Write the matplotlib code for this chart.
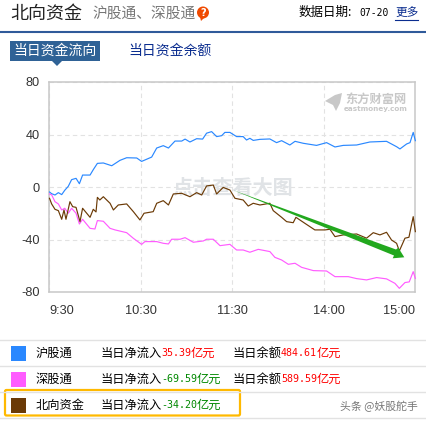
import matplotlib
matplotlib.use("Agg")
import matplotlib.pyplot as plt
from matplotlib.patches import Rectangle, Polygon, FancyBboxPatch, Circle
from matplotlib.transforms import ScaledTranslation

plt.rcParams['font.family'] = ['Noto Sans CJK SC', 'DejaVu Sans']

# minutes since 9:30 (lunch break removed), values in 100M yuan
sh_t = [0, 1.4, 3.6, 5.8, 8, 10, 12.3, 14.5, 17.4, 19.6, 21.7, 26.6, 28.7, 31.4, 35.3, 40.8, 46.2, 50.6, 57.2, 60.4,
        67, 70.3, 74.6, 78, 82.3, 86.7, 88.9, 92.1, 96.5, 100.4, 103, 106.3, 109.6, 112.9, 115, 118.3, 122.7, 127,
        129.2, 131.4, 133.6, 138, 144.5, 148.9, 152.2, 157.6, 161, 166.4, 175.1, 181.7, 187.2, 192.6, 201.4, 210.1,
        221, 227.6, 229.8, 234.2, 236.4, 238.5, 239.9]
sh_v = [-3.8, -5.1, -6.1, -4.3, -5.8, -2.5, 0.5, 5.6, 6.6, 2.5, 9.1, 9.1, 13.2, 18, 18.3, 16.2, 20.3, 22.3, 22.1, 19.5,
        22.8, 29.7, 31.5, 29.7, 35, 35, 36.5, 34.3, 36.8, 36.5, 41, 42.2, 38.4, 39.1, 41.6, 41.6, 38.4, 38.4,
        35.8, 37.1, 35.5, 36.3, 36.6, 33.8, 35.3, 32, 34.8, 33.3, 31.7, 33.8, 30.5, 31.7, 32, 34.3,
        34.8, 30.7, 29, 32.8, 33.8, 41.6, 35.3]

sz_t = [0, 1.4, 3.6, 5.8, 8, 10, 12.3, 14.5, 17.4, 19.6, 21.7, 26.6, 29.8, 31.4, 35.3, 39.7, 43, 50.6, 55, 60.4, 62.6,
        70.3, 74.6, 78, 80.1, 85.6, 88.9, 94.3, 100.9, 103, 107.4, 111.8, 118.3, 122.7, 127, 131.4, 136.9, 144.5,
        147.8, 152.2, 156.6, 161, 165.3, 173, 181.7, 187.2, 195.9, 201.4, 207.9, 214.5, 221, 226.5, 229.4, 233.1,
        235.9, 238.5, 239.9]
sz_v = [-5.3, -6, -11.2, -12.9, -17.5, -16.2, -20, -16.2, -20, -28.2, -24.6, -31.5, -32, -25.6, -26.1, -31.5, -32.7,
        -34.8, -39.1, -43.7, -41.6, -41.6, -42.9, -43.4, -39.8, -39.8, -38.6, -42.1, -41.1, -39.8, -39.8, -44.7,
        -43.7, -48, -48, -49.7, -47.5, -49.2, -53.6, -55.6, -58.9, -58.1, -61.2, -63.7, -64, -68.3, -68.3, -69.8,
        -70.8, -69, -70, -73.4, -77.2, -72.8, -72.3, -64.5, -69.6]

north_t = [0, 1.4, 3.6, 5.8, 8, 9.5, 10.8, 13.4, 15.2, 17.4, 20, 21.7, 26.6, 28.7, 30.5, 31.4, 33, 35.3, 39.7, 41.9,
           45.1, 50.6, 55, 59.3, 62, 68, 70.3, 74.6, 78, 81.2, 86.7, 92.1, 96.5, 99.8, 103, 107.4, 109.6, 113.9, 118.3,
           121.6, 127, 130.3, 133.6, 138, 144.5, 146.7, 152.2, 155.5, 159.8, 161.6, 167.5, 174, 180.6, 183.9, 187.2,
           192.6, 201.4, 207.9, 212.3, 216.7, 221, 224.3, 227.6, 229.4, 233.1, 235.7, 238.5, 239.9]
north_v = [-8.6, -12.9, -17, -18, -24.6, -17.5, -24.6, -11.2, -15, -15.5, -26.4, -16.2, -23.1, -17, -19, -7.9, -9.9,
           -7.4, -12.4, -17.5, -13.7, -12.9, -18.8, -25.1, -20, -18.8, -12.4, -10.4, -13.7, -5.3, -4.8, -7.4, -4.3,
           -6.1, 0.8, 1.5, -5.3, -0.3, -2.3, -8.6, -9.9, -14.5, -12.4, -13.7, -12.4, -18, -23.1, -26.4, -27.2, -23.1,
           -27.7, -32.7, -32.7, -32.2, -37.8, -36.5, -35.8, -39, -34.8, -36.5, -34.5, -40.4, -42.9, -48.7, -39, -38.3,
           -22.6, -34]

y_ticks = [-80, -40, 0, 40, 80]
x_ticks = [0, 60, 120, 180, 240]
x_labels = ['9:30', '10:30', '11:30', '14:00', '15:00']

BLUE = '#2a88ff'
PINK = '#ff5cff'
BROWN = '#6b3a06'

fig = plt.figure(figsize=(4.27, 4.22), dpi=100)

# overlay in pixel coordinates for the page furniture
ov = fig.add_axes([0, 0, 1, 1], zorder=0)
ov.set_xlim(0, 427)
ov.set_ylim(422, 0)
ov.axis('off')

ax = fig.add_axes([49.5 / 427, 130 / 422, 366 / 427, 210 / 422], zorder=1)
ax.patch.set_alpha(0)
ax.set_xlim(0, 240)
ax.set_ylim(-80, 80)
ax.set_yticks(y_ticks)
ax.set_yticklabels(['-80', '-40', '0', '40', '80'], family='Liberation Sans', fontsize=9.2, color='#333333')
ax.set_xticks(x_ticks)
ax.set_xticklabels(x_labels, family='Liberation Sans', fontsize=9.2, color='#333333')
ax.tick_params(length=0, pad=7)
ax.tick_params(axis='x', pad=9)
ax.grid(True, ls=(0, (4, 3)), lw=0.8, color='#e2e2e2')
ax.set_axisbelow(True)
for s in ax.spines.values():
    s.set_color('#c8c8c8')
    s.set_linewidth(1.1)

labs = ax.get_xticklabels()
labs[0].set_ha('left')
labs[4].set_ha('right')
labs[3].set_transform(labs[3].get_transform() + ScaledTranslation(4.5 / 100, 0, fig.dpi_scale_trans))

# watermarks under the lines
ax.text(0.5, 0.5, '点击查看大图', transform=ax.transAxes, ha='center', va='center', fontsize=14.5,
        fontweight='bold', color='#e0e3e6', zorder=1)
ov.text(376, 99, '东方财富网', ha='center', va='center', fontsize=8.8, fontweight='bold', color='#c8c8c8')
ov.text(376, 109, 'eastmoney.com', ha='center', va='center', fontsize=5.2, fontweight='bold', color='#c8c8c8',
        family='DejaVu Sans')
ov.add_patch(Polygon([(325, 101), (335, 95), (342, 93), (340, 103), (336, 111), (333, 105)], fc='#c8c8c8', ec='none'))

ax.plot(sh_t, sh_v, color=BLUE, lw=0.85, zorder=3, clip_on=False)
ax.plot(sz_t, sz_v, color=PINK, lw=0.85, zorder=3, clip_on=False)
ax.plot(north_t, north_v, color=BROWN, lw=0.85, zorder=3, clip_on=False)

# hand drawn green arrow on top of the chart
arrow = fig.add_axes([0, 0, 1, 1], zorder=2)
arrow.set_xlim(0, 427)
arrow.set_ylim(422, 0)
arrow.axis('off')
arrow.add_patch(Polygon([(232.7, 190), (396, 249.5), (398.3, 247.7), (404.3, 257.3), (392.7, 258.3), (394, 255.5)],
                        fc='#22a81e', ec='none'))

# header
ov.text(10, 14, '北向资金', fontsize=13, va='center', color='#222222')
ov.text(92, 14, '沪股通、深股通', fontsize=10.6, va='center', color='#777777')
ov.add_patch(Circle((203, 12.5), 6, fc='#f04a00', ec='none'))
ov.add_patch(Polygon([(200, 17), (205, 17), (201, 21)], fc='#f04a00', ec='none'))
ov.text(203, 12.5, '?', fontsize=7, fontweight='bold', color='white', ha='center', va='center', family='DejaVu Sans')
ov.text(299, 12.5, '数据日期:', fontsize=9, va='center', color='black')
ov.text(359, 12.5, '07-20', fontsize=7, va='center', color='black', family='DejaVu Sans Mono')
ov.text(395, 12.5, '更多', fontsize=8.4, va='center', color='#0b2d8f')
ov.plot([395, 418], [20, 20], color='#0b2d8f', lw=0.8)
ov.plot([0, 425], [32, 32], color='#2f5a9a', lw=1.5)

# tabs
ov.add_patch(Rectangle((10, 41), 90, 20, fc='#2f6296', ec='none'))
ov.add_patch(Polygon([(52, 61), (62, 61), (57, 66)], fc='#2f6296', ec='none'))
ov.text(55, 51, '当日资金流向', fontsize=10, color='white', ha='center', va='center')
ov.text(128, 51, '当日资金余额', fontsize=10, color='#0b2d8f', va='center')

# legend table
for yy in [340, 366, 392, 418]:
    ov.plot([0, 425], [yy, yy], color='#e2e2e2', lw=1)

names = ['沪股通', '深股通', '北向资金']
colors = [BLUE, PINK, BROWN]
flow = ['35.39', '-69.59', '-34.20']
flow_colors = ['#ff0000', '#008800', '#008800']
balance = ['484.61', '589.59', None]
rows = [353.5, 379.5, 405.5]

for name, col, fl, fc, bal, yy in zip(names, colors, flow, flow_colors, balance, rows):
    ov.add_patch(Rectangle((11, yy - 7.5), 15, 15, fc=col, ec='none'))
    ov.text(36, yy, name, fontsize=8.8, va='center', color='black')
    ov.text(101, yy, '当日净流入', fontsize=8.8, va='center', color='black')
    ov.text(161, yy, fl, fontsize=7.2, va='center', color=fc, family='DejaVu Sans Mono')
    ov.text(161 + 6 * len(fl), yy, '亿元', fontsize=8.8, va='center', color=fc)
    if bal is not None:
        ov.text(233, yy, '当日余额', fontsize=8.8, va='center', color='black')
        ov.text(281, yy, bal, fontsize=7.2, va='center', color='#ff0000', family='DejaVu Sans Mono')
        ov.text(317, yy, '亿元', fontsize=8.8, va='center', color='#ff0000')

ov.add_patch(FancyBboxPatch((5, 390), 235, 25.5, boxstyle='round,pad=0,rounding_size=1.5', fc='none',
                            ec='#ffb900', lw=1.6))
ov.text(340, 406, '头条 @妖股舵手', fontsize=7.8, va='center', color='#777777')

fig.savefig('out.png', dpi=100)
